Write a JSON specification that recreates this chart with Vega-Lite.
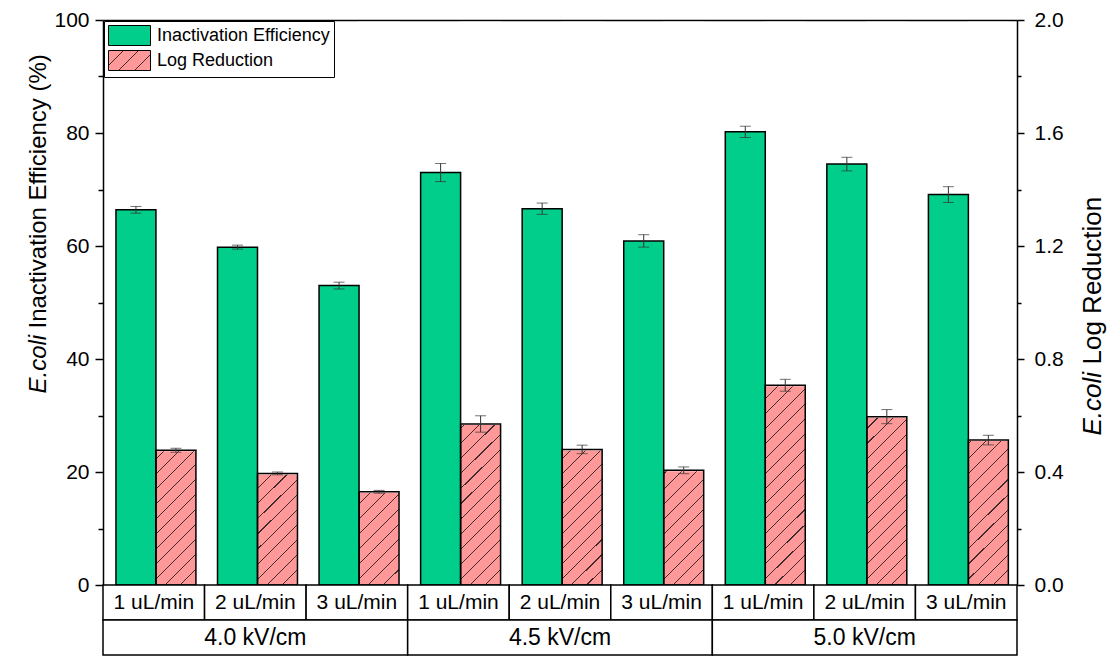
{
  "$schema": "https://vega.github.io/schema/vega-lite/v6.json",
  "width": 914,
  "height": 635,
  "autosize": {"type": "none"},
  "padding": {"left": 103, "top": 20, "right": 95, "bottom": 1},
  "background": "white",
  "config": {
    "view": {"stroke": null},
    "font": "Liberation Sans",
    "axis": {
      "grid": false,
      "domainColor": "black",
      "domainWidth": 1.5,
      "tickColor": "black",
      "tickWidth": 1.5,
      "labelFont": "Liberation Sans",
      "labelFontSize": 21,
      "labelColor": "black",
      "titleFont": "Liberation Sans",
      "titleFontSize": 24,
      "titleFontWeight": "normal",
      "titleColor": "black",
      "zindex": 1
    }
  },
  "datasets": {
    "main": [
      {"kv": "4.0 kV/cm", "flow": "1 uL/min", "cond": "4.0-1", "measure": "Inactivation Efficiency", "value": 66.4, "lo": 65.8, "hi": 67.0},
      {"kv": "4.0 kV/cm", "flow": "2 uL/min", "cond": "4.0-2", "measure": "Inactivation Efficiency", "value": 59.8, "lo": 59.45, "hi": 60.15},
      {"kv": "4.0 kV/cm", "flow": "3 uL/min", "cond": "4.0-3", "measure": "Inactivation Efficiency", "value": 53.0, "lo": 52.4, "hi": 53.6},
      {"kv": "4.5 kV/cm", "flow": "1 uL/min", "cond": "4.5-1", "measure": "Inactivation Efficiency", "value": 73.0, "lo": 71.4, "hi": 74.6},
      {"kv": "4.5 kV/cm", "flow": "2 uL/min", "cond": "4.5-2", "measure": "Inactivation Efficiency", "value": 66.6, "lo": 65.6, "hi": 67.6},
      {"kv": "4.5 kV/cm", "flow": "3 uL/min", "cond": "4.5-3", "measure": "Inactivation Efficiency", "value": 60.9, "lo": 59.8, "hi": 62.0},
      {"kv": "5.0 kV/cm", "flow": "1 uL/min", "cond": "5.0-1", "measure": "Inactivation Efficiency", "value": 80.2, "lo": 79.2, "hi": 81.2},
      {"kv": "5.0 kV/cm", "flow": "2 uL/min", "cond": "5.0-2", "measure": "Inactivation Efficiency", "value": 74.5, "lo": 73.3, "hi": 75.7},
      {"kv": "5.0 kV/cm", "flow": "3 uL/min", "cond": "5.0-3", "measure": "Inactivation Efficiency", "value": 69.1, "lo": 67.7, "hi": 70.5},
      {"kv": "4.0 kV/cm", "flow": "1 uL/min", "cond": "4.0-1", "measure": "Log Reduction", "value": 0.477, "lo": 0.470, "hi": 0.484},
      {"kv": "4.0 kV/cm", "flow": "2 uL/min", "cond": "4.0-2", "measure": "Log Reduction", "value": 0.395, "lo": 0.390, "hi": 0.400},
      {"kv": "4.0 kV/cm", "flow": "3 uL/min", "cond": "4.0-3", "measure": "Log Reduction", "value": 0.330, "lo": 0.325, "hi": 0.335},
      {"kv": "4.5 kV/cm", "flow": "1 uL/min", "cond": "4.5-1", "measure": "Log Reduction", "value": 0.570, "lo": 0.541, "hi": 0.599},
      {"kv": "4.5 kV/cm", "flow": "2 uL/min", "cond": "4.5-2", "measure": "Log Reduction", "value": 0.480, "lo": 0.465, "hi": 0.495},
      {"kv": "4.5 kV/cm", "flow": "3 uL/min", "cond": "4.5-3", "measure": "Log Reduction", "value": 0.406, "lo": 0.394, "hi": 0.418},
      {"kv": "5.0 kV/cm", "flow": "1 uL/min", "cond": "5.0-1", "measure": "Log Reduction", "value": 0.707, "lo": 0.686, "hi": 0.728},
      {"kv": "5.0 kV/cm", "flow": "2 uL/min", "cond": "5.0-2", "measure": "Log Reduction", "value": 0.596, "lo": 0.571, "hi": 0.621},
      {"kv": "5.0 kV/cm", "flow": "3 uL/min", "cond": "5.0-3", "measure": "Log Reduction", "value": 0.513, "lo": 0.496, "hi": 0.530}
    ]
  },
  "resolve": {"scale": {"x": "independent", "y": "independent"}},
  "layer": [
    {
      "data": {"name": "main"},
      "transform": [{"filter": "datum.measure === 'Log Reduction'"}],
      "mark": {"type": "bar", "strokeWidth": 0, "fill": {"gradient": "linear", "x1": 0, "y1": 0, "x2": 0.0754, "y2": 1.0655, "stops": [
        {"offset": 0, "color": "#FF9999"}, {"offset": 0.0232, "color": "#FF9999"}, {"offset": 0.0232, "color": "#3d2b2b"}, {"offset": 0.025, "color": "#3d2b2b"},
        {"offset": 0.025, "color": "#FF9999"}, {"offset": 0.0482, "color": "#FF9999"}, {"offset": 0.0482, "color": "#3d2b2b"}, {"offset": 0.05, "color": "#3d2b2b"},
        {"offset": 0.05, "color": "#FF9999"}, {"offset": 0.0732, "color": "#FF9999"}, {"offset": 0.0732, "color": "#3d2b2b"}, {"offset": 0.075, "color": "#3d2b2b"},
        {"offset": 0.075, "color": "#FF9999"}, {"offset": 0.0982, "color": "#FF9999"}, {"offset": 0.0982, "color": "#3d2b2b"}, {"offset": 0.1, "color": "#3d2b2b"},
        {"offset": 0.1, "color": "#FF9999"}, {"offset": 0.1232, "color": "#FF9999"}, {"offset": 0.1232, "color": "#3d2b2b"}, {"offset": 0.125, "color": "#3d2b2b"},
        {"offset": 0.125, "color": "#FF9999"}, {"offset": 0.1482, "color": "#FF9999"}, {"offset": 0.1482, "color": "#3d2b2b"}, {"offset": 0.15, "color": "#3d2b2b"},
        {"offset": 0.15, "color": "#FF9999"}, {"offset": 0.1732, "color": "#FF9999"}, {"offset": 0.1732, "color": "#3d2b2b"}, {"offset": 0.175, "color": "#3d2b2b"},
        {"offset": 0.175, "color": "#FF9999"}, {"offset": 0.1982, "color": "#FF9999"}, {"offset": 0.1982, "color": "#3d2b2b"}, {"offset": 0.2, "color": "#3d2b2b"},
        {"offset": 0.2, "color": "#FF9999"}, {"offset": 0.2232, "color": "#FF9999"}, {"offset": 0.2232, "color": "#3d2b2b"}, {"offset": 0.225, "color": "#3d2b2b"},
        {"offset": 0.225, "color": "#FF9999"}, {"offset": 0.2482, "color": "#FF9999"}, {"offset": 0.2482, "color": "#3d2b2b"}, {"offset": 0.25, "color": "#3d2b2b"},
        {"offset": 0.25, "color": "#FF9999"}, {"offset": 0.2732, "color": "#FF9999"}, {"offset": 0.2732, "color": "#3d2b2b"}, {"offset": 0.275, "color": "#3d2b2b"},
        {"offset": 0.275, "color": "#FF9999"}, {"offset": 0.2982, "color": "#FF9999"}, {"offset": 0.2982, "color": "#3d2b2b"}, {"offset": 0.3, "color": "#3d2b2b"},
        {"offset": 0.3, "color": "#FF9999"}, {"offset": 0.3232, "color": "#FF9999"}, {"offset": 0.3232, "color": "#3d2b2b"}, {"offset": 0.325, "color": "#3d2b2b"},
        {"offset": 0.325, "color": "#FF9999"}, {"offset": 0.3482, "color": "#FF9999"}, {"offset": 0.3482, "color": "#3d2b2b"}, {"offset": 0.35, "color": "#3d2b2b"},
        {"offset": 0.35, "color": "#FF9999"}, {"offset": 0.3732, "color": "#FF9999"}, {"offset": 0.3732, "color": "#3d2b2b"}, {"offset": 0.375, "color": "#3d2b2b"},
        {"offset": 0.375, "color": "#FF9999"}, {"offset": 0.3982, "color": "#FF9999"}, {"offset": 0.3982, "color": "#3d2b2b"}, {"offset": 0.4, "color": "#3d2b2b"},
        {"offset": 0.4, "color": "#FF9999"}, {"offset": 0.4232, "color": "#FF9999"}, {"offset": 0.4232, "color": "#3d2b2b"}, {"offset": 0.425, "color": "#3d2b2b"},
        {"offset": 0.425, "color": "#FF9999"}, {"offset": 0.4482, "color": "#FF9999"}, {"offset": 0.4482, "color": "#3d2b2b"}, {"offset": 0.45, "color": "#3d2b2b"},
        {"offset": 0.45, "color": "#FF9999"}, {"offset": 0.4732, "color": "#FF9999"}, {"offset": 0.4732, "color": "#3d2b2b"}, {"offset": 0.475, "color": "#3d2b2b"},
        {"offset": 0.475, "color": "#FF9999"}, {"offset": 0.4982, "color": "#FF9999"}, {"offset": 0.4982, "color": "#3d2b2b"}, {"offset": 0.5, "color": "#3d2b2b"},
        {"offset": 0.5, "color": "#FF9999"}, {"offset": 0.5232, "color": "#FF9999"}, {"offset": 0.5232, "color": "#3d2b2b"}, {"offset": 0.525, "color": "#3d2b2b"},
        {"offset": 0.525, "color": "#FF9999"}, {"offset": 0.5482, "color": "#FF9999"}, {"offset": 0.5482, "color": "#3d2b2b"}, {"offset": 0.55, "color": "#3d2b2b"},
        {"offset": 0.55, "color": "#FF9999"}, {"offset": 0.5732, "color": "#FF9999"}, {"offset": 0.5732, "color": "#3d2b2b"}, {"offset": 0.575, "color": "#3d2b2b"},
        {"offset": 0.575, "color": "#FF9999"}, {"offset": 0.5982, "color": "#FF9999"}, {"offset": 0.5982, "color": "#3d2b2b"}, {"offset": 0.6, "color": "#3d2b2b"},
        {"offset": 0.6, "color": "#FF9999"}, {"offset": 0.6232, "color": "#FF9999"}, {"offset": 0.6232, "color": "#3d2b2b"}, {"offset": 0.625, "color": "#3d2b2b"},
        {"offset": 0.625, "color": "#FF9999"}, {"offset": 0.6482, "color": "#FF9999"}, {"offset": 0.6482, "color": "#3d2b2b"}, {"offset": 0.65, "color": "#3d2b2b"},
        {"offset": 0.65, "color": "#FF9999"}, {"offset": 0.6732, "color": "#FF9999"}, {"offset": 0.6732, "color": "#3d2b2b"}, {"offset": 0.675, "color": "#3d2b2b"},
        {"offset": 0.675, "color": "#FF9999"}, {"offset": 0.6982, "color": "#FF9999"}, {"offset": 0.6982, "color": "#3d2b2b"}, {"offset": 0.7, "color": "#3d2b2b"},
        {"offset": 0.7, "color": "#FF9999"}, {"offset": 0.7232, "color": "#FF9999"}, {"offset": 0.7232, "color": "#3d2b2b"}, {"offset": 0.725, "color": "#3d2b2b"},
        {"offset": 0.725, "color": "#FF9999"}, {"offset": 0.7482, "color": "#FF9999"}, {"offset": 0.7482, "color": "#3d2b2b"}, {"offset": 0.75, "color": "#3d2b2b"},
        {"offset": 0.75, "color": "#FF9999"}, {"offset": 0.7732, "color": "#FF9999"}, {"offset": 0.7732, "color": "#3d2b2b"}, {"offset": 0.775, "color": "#3d2b2b"},
        {"offset": 0.775, "color": "#FF9999"}, {"offset": 0.7982, "color": "#FF9999"}, {"offset": 0.7982, "color": "#3d2b2b"}, {"offset": 0.8, "color": "#3d2b2b"},
        {"offset": 0.8, "color": "#FF9999"}, {"offset": 0.8232, "color": "#FF9999"}, {"offset": 0.8232, "color": "#3d2b2b"}, {"offset": 0.825, "color": "#3d2b2b"},
        {"offset": 0.825, "color": "#FF9999"}, {"offset": 0.8482, "color": "#FF9999"}, {"offset": 0.8482, "color": "#3d2b2b"}, {"offset": 0.85, "color": "#3d2b2b"},
        {"offset": 0.85, "color": "#FF9999"}, {"offset": 0.8732, "color": "#FF9999"}, {"offset": 0.8732, "color": "#3d2b2b"}, {"offset": 0.875, "color": "#3d2b2b"},
        {"offset": 0.875, "color": "#FF9999"}, {"offset": 0.8982, "color": "#FF9999"}, {"offset": 0.8982, "color": "#3d2b2b"}, {"offset": 0.9, "color": "#3d2b2b"},
        {"offset": 0.9, "color": "#FF9999"}, {"offset": 0.9232, "color": "#FF9999"}, {"offset": 0.9232, "color": "#3d2b2b"}, {"offset": 0.925, "color": "#3d2b2b"},
        {"offset": 0.925, "color": "#FF9999"}, {"offset": 0.9482, "color": "#FF9999"}, {"offset": 0.9482, "color": "#3d2b2b"}, {"offset": 0.95, "color": "#3d2b2b"},
        {"offset": 0.95, "color": "#FF9999"}, {"offset": 0.9732, "color": "#FF9999"}, {"offset": 0.9732, "color": "#3d2b2b"}, {"offset": 0.975, "color": "#3d2b2b"},
        {"offset": 0.975, "color": "#FF9999"}, {"offset": 0.9982, "color": "#FF9999"}, {"offset": 0.9982, "color": "#3d2b2b"}, {"offset": 1, "color": "#3d2b2b"}]}},
      "encoding": {
        "x": {"field": "cond", "type": "nominal", "scale": {"domain": ["4.0-1", "4.0-2", "4.0-3", "4.5-1", "4.5-2", "4.5-3", "5.0-1", "5.0-2", "5.0-3"], "paddingInner": 0, "paddingOuter": 0}, "axis": null},
        "xOffset": {"field": "measure", "type": "nominal", "scale": {"domain": ["Inactivation Efficiency", "Log Reduction"], "paddingInner": 0, "paddingOuter": 0.27, "align": 0.6}},
        "y": {"datum": 1.99, "type": "quantitative", "scale": {"domain": [0, 2], "range": [565, 0], "nice": false}, "axis": null},
        "y2": {"datum": 0}
      }
    },
    {
      "data": {"name": "main"},
      "transform": [{"filter": "datum.measure === 'Log Reduction'"}],
      "mark": {"type": "bar", "fill": "white", "stroke": "white", "strokeWidth": 2},
      "encoding": {
        "x": {"field": "cond", "type": "nominal", "scale": {"domain": ["4.0-1", "4.0-2", "4.0-3", "4.5-1", "4.5-2", "4.5-3", "5.0-1", "5.0-2", "5.0-3"], "paddingInner": 0, "paddingOuter": 0}, "axis": null},
        "xOffset": {"field": "measure", "type": "nominal", "scale": {"domain": ["Inactivation Efficiency", "Log Reduction"], "paddingInner": 0, "paddingOuter": 0.27, "align": 0.6}},
        "y": {"field": "value", "type": "quantitative", "scale": {"domain": [0, 2], "range": [565, 0], "nice": false}, "axis": null},
        "y2": {"datum": 1.99}
      }
    },
    {
      "data": {"name": "main"},
      "transform": [{"filter": "datum.measure === 'Inactivation Efficiency'"}],
      "mark": {"type": "bar", "stroke": "black", "strokeWidth": 1.5},
      "encoding": {
        "x": {"field": "cond", "type": "nominal", "scale": {"domain": ["4.0-1", "4.0-2", "4.0-3", "4.5-1", "4.5-2", "4.5-3", "5.0-1", "5.0-2", "5.0-3"], "paddingInner": 0, "paddingOuter": 0},
              "axis": {"orient": "top", "labels": false, "ticks": false, "domain": true, "title": null}},
        "xOffset": {"field": "measure", "type": "nominal", "scale": {"domain": ["Inactivation Efficiency", "Log Reduction"], "paddingInner": 0, "paddingOuter": 0.27, "align": 0.6}},
        "y": {"field": "value", "type": "quantitative", "scale": {"domain": [0, 100], "range": [565, 0], "nice": false},
              "axis": {"orient": "left", "values": [0, 20, 40, 60, 80, 100], "tickSize": 8, "labelPadding": 6,
                       "title": "Inactivation Efficiency (%)", "titleAngle": -90, "titleAlign": "left", "titleBaseline": "alphabetic", "titleX": -58, "titleY": 308}},
        "fill": {"field": "measure", "type": "nominal",
                 "scale": {"domain": ["Inactivation Efficiency", "Log Reduction"],
                           "range": ["#00CE8A", {"expr": "{gradient: 'linear', x1: 0, y1: 0, x2: 1.2033, y2: 0.573, stops: [{offset: 0, color: '#FF9999'}, {offset: 0.23, color: '#FF9999'}, {offset: 0.23, color: '#3d2b2b'}, {offset: 0.25, color: '#3d2b2b'}, {offset: 0.25, color: '#FF9999'}, {offset: 0.48, color: '#FF9999'}, {offset: 0.48, color: '#3d2b2b'}, {offset: 0.5, color: '#3d2b2b'}, {offset: 0.5, color: '#FF9999'}, {offset: 0.73, color: '#FF9999'}, {offset: 0.73, color: '#3d2b2b'}, {offset: 0.75, color: '#3d2b2b'}, {offset: 0.75, color: '#FF9999'}, {offset: 0.98, color: '#FF9999'}, {offset: 0.98, color: '#3d2b2b'}, {offset: 1, color: '#3d2b2b'}]}"}]},
                 "legend": {"orient": "top-left", "offset": 1, "title": null, "padding": 4, "strokeColor": "black", "fillColor": "white",
                            "symbolType": "M-1,-1H3.2V1H-1Z", "symbolSize": 400, "symbolStrokeColor": "black", "symbolStrokeWidth": 1,
                            "labelFont": "Liberation Sans", "labelFontSize": 18, "labelColor": "black", "labelOffset": 28, "labelLimit": 400,
                            "rowPadding": 0, "symbolOpacity": 1}}
      }
    },
    {
      "data": {"name": "main"},
      "transform": [{"filter": "datum.measure === 'Inactivation Efficiency'"}],
      "mark": {"type": "rule", "color": "#333333", "strokeWidth": 1},
      "encoding": {
        "x": {"field": "cond", "type": "nominal", "scale": {"domain": ["4.0-1", "4.0-2", "4.0-3", "4.5-1", "4.5-2", "4.5-3", "5.0-1", "5.0-2", "5.0-3"], "paddingInner": 0, "paddingOuter": 0}, "axis": null},
        "xOffset": {"field": "measure", "type": "nominal", "scale": {"domain": ["Inactivation Efficiency", "Log Reduction"], "paddingInner": 0, "paddingOuter": 0.27, "align": 0.6}},
        "y": {"field": "lo", "type": "quantitative", "scale": {"domain": [0, 100], "range": [565, 0], "nice": false},
              "axis": {"orient": "left", "values": [10, 30, 50, 70, 90], "labels": false, "domain": false, "tickSize": 5,
                       "title": "E.coli", "titleFontStyle": "italic", "titleAngle": -90, "titleAlign": "left", "titleBaseline": "alphabetic", "titleX": -58, "titleY": 373}},
        "y2": {"field": "hi"}
      }
    },
    {
      "data": {"name": "main"},
      "transform": [{"filter": "datum.measure === 'Inactivation Efficiency'"}],
      "mark": {"type": "tick", "orient": "horizontal", "size": 11, "thickness": 1, "color": "#333333"},
      "encoding": {
        "x": {"field": "cond", "type": "nominal", "scale": {"domain": ["4.0-1", "4.0-2", "4.0-3", "4.5-1", "4.5-2", "4.5-3", "5.0-1", "5.0-2", "5.0-3"], "paddingInner": 0, "paddingOuter": 0}, "axis": null},
        "xOffset": {"field": "measure", "type": "nominal", "scale": {"domain": ["Inactivation Efficiency", "Log Reduction"], "paddingInner": 0, "paddingOuter": 0.27, "align": 0.6}},
        "y": {"field": "lo", "type": "quantitative", "scale": {"domain": [0, 100], "range": [565, 0], "nice": false}, "axis": null}
      }
    },
    {
      "data": {"name": "main"},
      "transform": [{"filter": "datum.measure === 'Inactivation Efficiency'"}],
      "mark": {"type": "tick", "orient": "horizontal", "size": 11, "thickness": 1, "color": "#333333"},
      "encoding": {
        "x": {"field": "cond", "type": "nominal", "scale": {"domain": ["4.0-1", "4.0-2", "4.0-3", "4.5-1", "4.5-2", "4.5-3", "5.0-1", "5.0-2", "5.0-3"], "paddingInner": 0, "paddingOuter": 0}, "axis": null},
        "xOffset": {"field": "measure", "type": "nominal", "scale": {"domain": ["Inactivation Efficiency", "Log Reduction"], "paddingInner": 0, "paddingOuter": 0.27, "align": 0.6}},
        "y": {"field": "hi", "type": "quantitative", "scale": {"domain": [0, 100], "range": [565, 0], "nice": false}, "axis": null}
      }
    },
    {
      "data": {"name": "main"},
      "transform": [{"filter": "datum.measure === 'Log Reduction'"}],
      "mark": {"type": "bar", "fill": "transparent", "stroke": "black", "strokeWidth": 1.5},
      "encoding": {
        "x": {"field": "cond", "type": "nominal", "scale": {"domain": ["4.0-1", "4.0-2", "4.0-3", "4.5-1", "4.5-2", "4.5-3", "5.0-1", "5.0-2", "5.0-3"], "paddingInner": 0, "paddingOuter": 0}, "axis": null},
        "xOffset": {"field": "measure", "type": "nominal", "scale": {"domain": ["Inactivation Efficiency", "Log Reduction"], "paddingInner": 0, "paddingOuter": 0.27, "align": 0.6}},
        "y": {"field": "value", "type": "quantitative", "scale": {"domain": [0, 2], "range": [565, 0], "nice": false},
              "axis": {"orient": "right", "values": [0, 0.4, 0.8, 1.2, 1.6, 2.0], "format": ".1f", "tickSize": 7, "labelPadding": 10,
                       "title": "Log Reduction", "titleFontSize": 26, "titleAngle": -90, "titleAlign": "left", "titleBaseline": "alphabetic", "titleX": 83, "titleY": 344}}
      }
    },
    {
      "data": {"name": "main"},
      "transform": [{"filter": "datum.measure === 'Log Reduction'"}],
      "mark": {"type": "rule", "color": "#333333", "strokeWidth": 1},
      "encoding": {
        "x": {"field": "cond", "type": "nominal", "scale": {"domain": ["4.0-1", "4.0-2", "4.0-3", "4.5-1", "4.5-2", "4.5-3", "5.0-1", "5.0-2", "5.0-3"], "paddingInner": 0, "paddingOuter": 0}, "axis": null},
        "xOffset": {"field": "measure", "type": "nominal", "scale": {"domain": ["Inactivation Efficiency", "Log Reduction"], "paddingInner": 0, "paddingOuter": 0.27, "align": 0.6}},
        "y": {"field": "lo", "type": "quantitative", "scale": {"domain": [0, 2], "range": [565, 0], "nice": false},
              "axis": {"orient": "right", "values": [0.2, 0.6, 1.0, 1.4, 1.8], "labels": false, "domain": false, "tickSize": 4,
                       "title": "E.coli", "titleFontSize": 26, "titleFontStyle": "italic", "titleAngle": -90, "titleAlign": "left", "titleBaseline": "alphabetic", "titleX": 83, "titleY": 415}},
        "y2": {"field": "hi"}
      }
    },
    {
      "data": {"name": "main"},
      "transform": [{"filter": "datum.measure === 'Log Reduction'"}],
      "mark": {"type": "tick", "orient": "horizontal", "size": 11, "thickness": 1, "color": "#333333"},
      "encoding": {
        "x": {"field": "cond", "type": "nominal", "scale": {"domain": ["4.0-1", "4.0-2", "4.0-3", "4.5-1", "4.5-2", "4.5-3", "5.0-1", "5.0-2", "5.0-3"], "paddingInner": 0, "paddingOuter": 0}, "axis": null},
        "xOffset": {"field": "measure", "type": "nominal", "scale": {"domain": ["Inactivation Efficiency", "Log Reduction"], "paddingInner": 0, "paddingOuter": 0.27, "align": 0.6}},
        "y": {"field": "lo", "type": "quantitative", "scale": {"domain": [0, 2], "range": [565, 0], "nice": false}, "axis": null}
      }
    },
    {
      "data": {"name": "main"},
      "transform": [{"filter": "datum.measure === 'Log Reduction'"}],
      "mark": {"type": "tick", "orient": "horizontal", "size": 11, "thickness": 1, "color": "#333333"},
      "encoding": {
        "x": {"field": "cond", "type": "nominal", "scale": {"domain": ["4.0-1", "4.0-2", "4.0-3", "4.5-1", "4.5-2", "4.5-3", "5.0-1", "5.0-2", "5.0-3"], "paddingInner": 0, "paddingOuter": 0}, "axis": null},
        "xOffset": {"field": "measure", "type": "nominal", "scale": {"domain": ["Inactivation Efficiency", "Log Reduction"], "paddingInner": 0, "paddingOuter": 0.27, "align": 0.6}},
        "y": {"field": "hi", "type": "quantitative", "scale": {"domain": [0, 2], "range": [565, 0], "nice": false}, "axis": null}
      }
    },
    {
      "data": {"name": "main"},
      "transform": [{"filter": "datum.measure === 'Inactivation Efficiency'"}],
      "mark": {"type": "rect", "fill": "white", "stroke": "black", "strokeWidth": 1.5},
      "encoding": {
        "x": {"field": "cond", "type": "nominal", "scale": {"domain": ["4.0-1", "4.0-2", "4.0-3", "4.5-1", "4.5-2", "4.5-3", "5.0-1", "5.0-2", "5.0-3"], "paddingInner": 0, "paddingOuter": 0}, "axis": null},
        "y": {"datum": "rate", "type": "nominal", "scale": {"domain": ["rate", "field"], "range": [565, 635], "paddingInner": 0, "paddingOuter": 0}, "axis": null}
      }
    },
    {
      "data": {"name": "main"},
      "transform": [{"filter": "datum.measure === 'Inactivation Efficiency'"}],
      "mark": {"type": "text", "font": "Liberation Sans", "fontSize": 21, "color": "black"},
      "encoding": {
        "x": {"field": "cond", "type": "nominal", "scale": {"domain": ["4.0-1", "4.0-2", "4.0-3", "4.5-1", "4.5-2", "4.5-3", "5.0-1", "5.0-2", "5.0-3"], "paddingInner": 0, "paddingOuter": 0}, "axis": null},
        "y": {"datum": "rate", "type": "nominal", "scale": {"domain": ["rate", "field"], "range": [565, 635], "paddingInner": 0, "paddingOuter": 0}, "axis": null},
        "text": {"field": "flow"}
      }
    },
    {
      "data": {"name": "main"},
      "transform": [{"aggregate": [{"op": "count", "as": "n"}], "groupby": ["kv"]}],
      "mark": {"type": "rect", "fill": "white", "stroke": "black", "strokeWidth": 1.5},
      "encoding": {
        "x": {"field": "kv", "type": "nominal", "scale": {"domain": ["4.0 kV/cm", "4.5 kV/cm", "5.0 kV/cm"], "paddingInner": 0, "paddingOuter": 0}, "axis": null},
        "y": {"datum": "field", "type": "nominal", "scale": {"domain": ["rate", "field"], "range": [565, 635], "paddingInner": 0, "paddingOuter": 0}, "axis": null}
      }
    },
    {
      "data": {"name": "main"},
      "transform": [{"aggregate": [{"op": "count", "as": "n"}], "groupby": ["kv"]}],
      "mark": {"type": "text", "font": "Liberation Sans", "fontSize": 23, "color": "black"},
      "encoding": {
        "x": {"field": "kv", "type": "nominal", "scale": {"domain": ["4.0 kV/cm", "4.5 kV/cm", "5.0 kV/cm"], "paddingInner": 0, "paddingOuter": 0}, "axis": null},
        "y": {"datum": "field", "type": "nominal", "scale": {"domain": ["rate", "field"], "range": [565, 635], "paddingInner": 0, "paddingOuter": 0}, "axis": null},
        "text": {"field": "kv"}
      }
    }
  ]
}
